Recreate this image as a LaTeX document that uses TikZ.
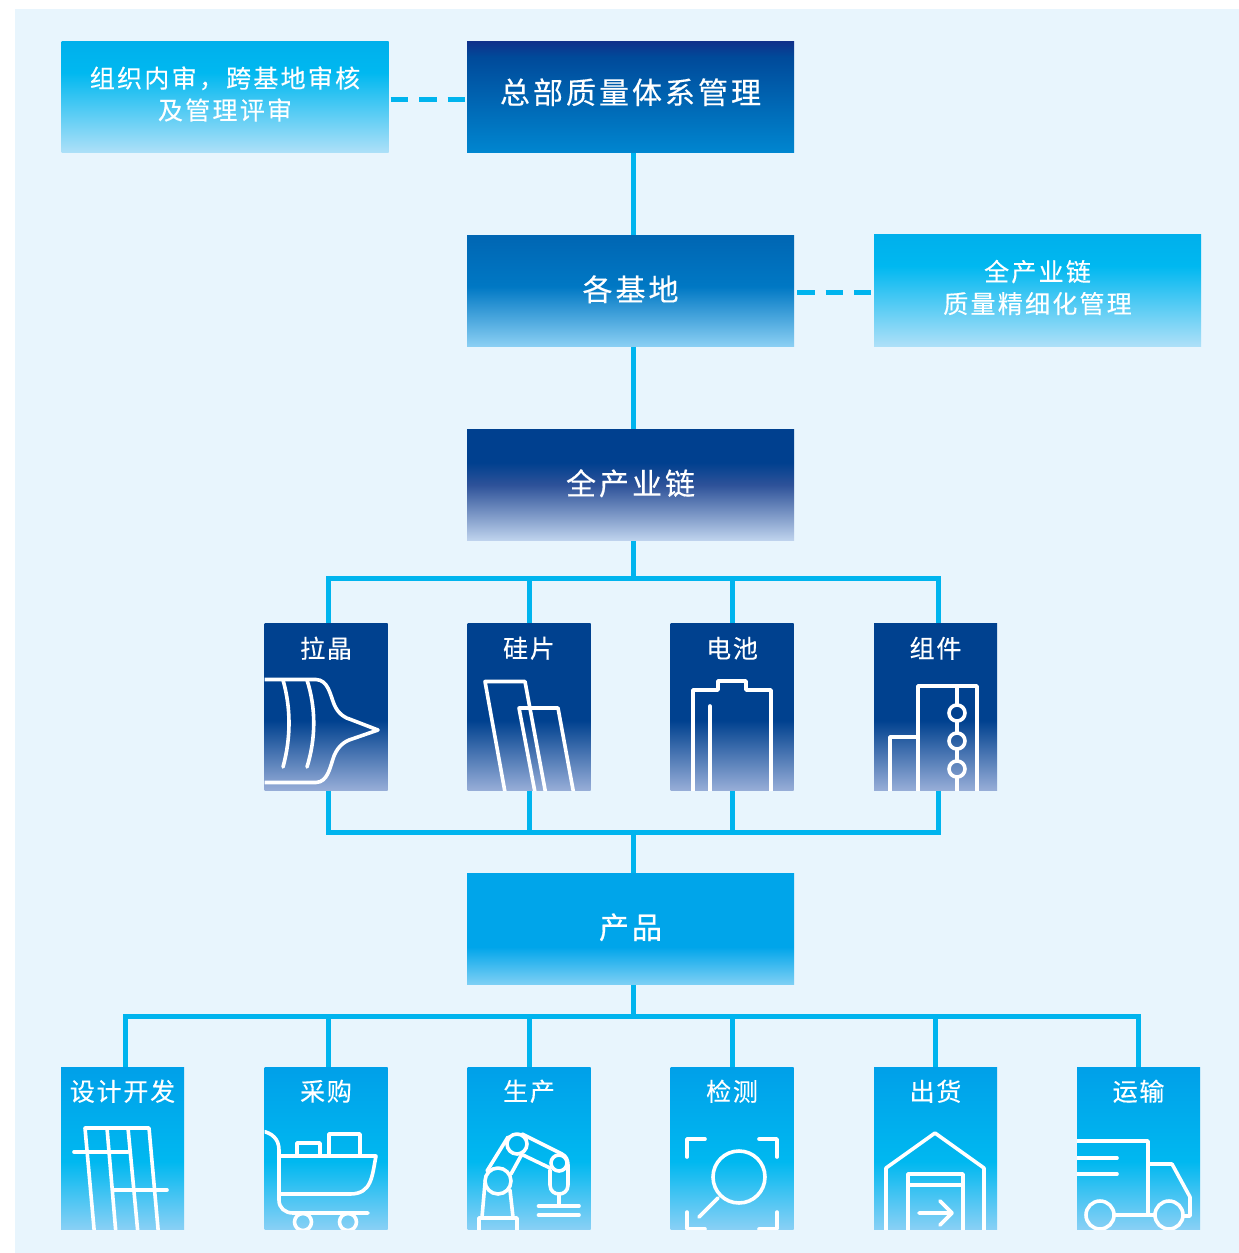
\documentclass[tikz,border=0pt]{standalone}
\usepackage{fontspec}
\usetikzlibrary{calc}
\newfontfamily\cjkbig[LetterSpace=10,FakeBold=0.35]{Noto Sans CJK SC}
\newfontfamily\cjksub[LetterSpace=9,FakeBold=0.3]{Noto Sans CJK SC}
\newfontfamily\cjksmall[LetterSpace=7,FakeBold=0.3]{Noto Sans CJK SC}
\definecolor{pagebg}{HTML}{E8F5FD}
\definecolor{linkc}{HTML}{00B4EE}
\definecolor{aTop}{HTML}{00B0EC}\definecolor{aMid}{HTML}{00B8F0}\definecolor{aBot}{HTML}{AEE0F8}
\definecolor{hTop}{HTML}{10308A}\definecolor{hMid}{HTML}{004A9A}\definecolor{hBot}{HTML}{0086D0}
\definecolor{bTop}{HTML}{0066B3}\definecolor{bMid}{HTML}{0078C4}\definecolor{bBot}{HTML}{8CD0F4}
\definecolor{cTop}{HTML}{00408F}\definecolor{cMid}{HTML}{2E5299}\definecolor{cBot}{HTML}{C0D4EE}
\definecolor{sTop}{HTML}{00418F}\definecolor{sBot}{HTML}{98AED8}
\definecolor{pTop}{HTML}{00A5EA}\definecolor{pBot}{HTML}{7FD0F5}
\definecolor{dTop}{HTML}{00A0E9}\definecolor{dMid}{HTML}{00B8F0}\definecolor{dBot}{HTML}{8AD0F5}
\pgfdeclareverticalshading{shA}{100bp}{color(0bp)=(aBot);color(25bp)=(aBot);color(61bp)=(aMid);color(75bp)=(aTop);color(100bp)=(aTop)}
\pgfdeclareverticalshading{shH}{100bp}{color(0bp)=(hBot);color(25bp)=(hBot);color(68bp)=(hMid);color(75bp)=(hTop);color(100bp)=(hTop)}
\pgfdeclareverticalshading{shB}{100bp}{color(0bp)=(bBot);color(25bp)=(bBot);color(52bp)=(bMid);color(75bp)=(bTop);color(100bp)=(bTop)}
\pgfdeclareverticalshading{shC}{100bp}{color(0bp)=(cBot);color(25bp)=(cBot);color(50bp)=(cMid);color(60bp)=(cTop);color(100bp)=(cTop)}
\pgfdeclareverticalshading{shS}{100bp}{color(0bp)=(sBot);color(25bp)=(sBot);color(46bp)=(sTop);color(100bp)=(sTop)}
\pgfdeclareverticalshading{shP}{100bp}{color(0bp)=(pBot);color(25bp)=(pBot);color(42bp)=(pTop);color(100bp)=(pTop)}
\pgfdeclareverticalshading{shD}{100bp}{color(0bp)=(dBot);color(25bp)=(dBot);color(46bp)=(dMid);color(75bp)=(dTop);color(100bp)=(dTop)}
\tikzset{
  boxbig/.style={rectangle,inner sep=0pt,outer sep=0pt,minimum width=327pt,minimum height=111.5pt,text=white,shade,align=center,font=\cjkbig\fontsize{30}{32}\selectfont},
  boxsub/.style={rectangle,inner sep=0pt,outer sep=0pt,minimum width=327pt,minimum height=111.5pt,text=white,shade,shading=shA,align=center,font=\cjksub\fontsize{25}{32}\selectfont},
  boxicon/.style={rectangle,inner sep=0pt,outer sep=0pt,minimum width=123pt,shade},
  capt/.style={text=white,inner sep=0pt,font=\cjksmall\fontsize{25}{28}\selectfont},
  link/.style={draw=linkc,line width=5pt},
  dashlink/.style={draw=linkc,line width=5pt,dash pattern=on 17.5pt off 11pt},
  icon/.style={draw=white,line width=3.6pt,line join=round,line cap=round},
}
\begin{document}
\begin{tikzpicture}[x=1pt,y=-1pt]
\useasboundingbox (0,0) rectangle (1239,1253);
\fill[pagebg] (15,9) rectangle (1239,1253);
% main boxes
\node[boxsub,text depth=8pt] (audit) at (225,97) {组织内审，跨基地审核\\及管理评审};
\node[boxbig,shading=shH,text depth=12pt] (hq) at (630.5,97) {总部质量体系管理};
\node[boxbig,shading=shB,text depth=6pt] (base) at (630.5,291) {各基地};
\node[boxsub,text depth=8pt] (fine) at (1037.5,290.5) {全产业链\\质量精细化管理};
\node[boxbig,shading=shC,text depth=6pt] (chain) at (630.5,485) {全产业链};
\node[boxbig,shading=shP,text depth=6pt] (prod) at (630.5,929) {产品};
% stage boxes
\foreach \n/\cx in {la/326,gui/529,dian/732,zu/935.5}
  \node[boxicon,shading=shS,minimum height=167.5pt] (\n) at (\cx,707) {};
\foreach \n/\cx in {she/122.5,cai/326,sheng/529,jian/732,chu/935.5,yun/1138.5}
  \node[boxicon,shading=shD,minimum height=162.5pt] (\n) at (\cx,1148.5) {};
% captions
\foreach \n/\t in {la/拉晶,gui/硅片,dian/电池,zu/组件}
  \node[capt] (\n t) at ($(\n.north)+(0,25)$) {\t};
\foreach \n/\t in {she/设计开发,cai/采购,sheng/生产,jian/检测,chu/出货,yun/运输}
  \node[capt] (\n t) at ($(\n.north)+(0,24)$) {\t};
% connectors
\coordinate (trunk) at (633,0);
\coordinate (busA) at (633,578);
\coordinate (busB) at (633,832);
\coordinate (busC) at (633,1016);
\draw[link] (hq.south -| trunk) -- (base.north -| trunk);
\draw[link] (base.south -| trunk) -- (chain.north -| trunk);
\draw[link] (chain.south -| trunk) -- (busA);
\draw[link] (busB) -- (prod.north -| trunk);
\draw[link] (prod.south -| trunk) -- (busC);
\draw[link] ($(la.north)+(2,0)$) |- (busA);
\draw[link] ($(gui.north)$) -- (gui.north |- busA);
\draw[link] ($(dian.north)$) -- (dian.north |- busA);
\draw[link] ($(zu.north)+(2.5,0)$) |- (busA);
\draw[link] ($(la.south)+(2,0)$) |- (busB);
\draw[link] (gui.south) -- (gui.south |- busB);
\draw[link] (dian.south) -- (dian.south |- busB);
\draw[link] ($(zu.south)+(2.5,0)$) |- (busB);
\draw[link] ($(she.north)+(2.5,0)$) |- (busC);
\draw[link] ($(cai.north)+(2,0)$) -- ($(cai.north |- busC)+(2,0)$);
\draw[link] (sheng.north) -- (sheng.north |- busC);
\draw[link] (jian.north) -- (jian.north |- busC);
\draw[link] (chu.north) -- (chu.north |- busC);
\draw[link] (yun.north) |- (busC);
\draw[dashlink] ($(audit.east)+(2,2)$) -- ($(hq.west)+(-2,2)$);
\draw[dashlink] ($(base.east)+(3,1)$) -- ($(fine.west)+(-3,1.5)$);
% icon: crystal
\begin{scope}
\clip (la.north west) rectangle (la.south east);
\draw[icon] (262,679.5) -- (316,679.5) .. controls (328,680) and (330,694) .. (334,704) .. controls (338,714) and (345,718) .. (352,720) -- (378,730) -- (352,739) .. controls (345,741) and (338,746) .. (334,756) .. controls (330,767) and (328,782) .. (316,782.5) -- (262,782.5);
\draw[icon] (283,680) .. controls (291,708) and (291,738) .. (283,767);
\draw[icon] (307,680) .. controls (316,708) and (316,738) .. (307,767);
\end{scope}
% icon: wafer
\begin{scope}
\clip (gui.north west) rectangle (gui.south east);
\draw[icon] (505.5,795) -- (485,681.5) -- (525,681.5) -- (546,795);
\draw[icon] (535.5,795) -- (519,708) -- (558,708) -- (574,795);
\end{scope}
% icon: cell
\begin{scope}
\clip (dian.north west) rectangle (dian.south east);
\draw[icon] (693,795) -- (693,690) -- (718,690) -- (718,681) -- (746,681) -- (746,690) -- (771,690) -- (771,795);
\draw[icon] (710,706) -- (710,795);
\end{scope}
% icon: module
\begin{scope}
\clip (zu.north west) rectangle (zu.south east);
\draw[icon] (918,795) -- (918,686) -- (977,686) -- (977,795);
\draw[icon] (890,795) -- (890,737) -- (918,737);
\draw[icon] (957,686) -- (957,705) (957,721) -- (957,733) (957,749) -- (957,761) (957,777) -- (957,795);
\foreach \yy in {713,741,769} \draw[icon] (957,\yy) circle[radius=8];
\end{scope}
% icon: panel
\begin{scope}
\clip (she.north west) rectangle (she.south east);
\draw[icon] (94.5,1234) -- (85,1128) -- (149,1128) -- (158.5,1234);
\draw[icon] (107,1128) -- (116,1234) (128,1128) -- (138,1234);
\draw[icon] (74,1152) -- (128,1152) (113,1190) -- (167,1190);
\end{scope}
% icon: cart
\begin{scope}
\clip (cai.north west) rectangle (cai.south east);
\draw[icon] (262,1131) .. controls (272,1133) and (279,1139) .. (279,1150) -- (279,1200) .. controls (279,1208) and (285,1213) .. (293,1213) -- (368,1213);
\draw[icon] (279,1156) -- (376,1156) .. controls (372,1176) and (372,1194) .. (350,1194) -- (279,1194);
\draw[icon] (297,1156) -- (297,1143) -- (320,1143) -- (320,1156);
\draw[icon] (329,1156) -- (329,1134) -- (360,1134) -- (360,1156);
\draw[icon] (303,1222) circle[radius=8.5] (348,1222) circle[radius=8.5];
\end{scope}
% icon: robot
\begin{scope}
\clip (sheng.north west) rectangle (sheng.south east);
\draw[icon] (479,1234) -- (479,1218) -- (517,1218) -- (517,1234);
\draw[icon] (482,1217) -- (485,1183) (513,1217) -- (510,1190);
\draw[icon] (517,1144) circle[radius=10];
\draw[icon] (498,1181) circle[radius=13];
\draw[icon] (559,1163) circle[radius=8];
\draw[icon] (487,1171) -- (508,1137) (511,1174) -- (522,1154);
\draw[icon] (522,1134) -- (562,1154) .. controls (566,1156) and (568,1160) .. (568,1165) -- (568,1185) .. controls (568,1197) and (550,1197) .. (550,1185) -- (550,1170);
\draw[icon] (523,1155) -- (550,1168);
\draw[icon] (559,1195) -- (559,1205);
\draw[icon] (538.5,1206) -- (579,1206) (538.5,1215) -- (579,1215);
\end{scope}
% icon: inspection
\begin{scope}
\clip (jian.north west) rectangle (jian.south east);
\draw[icon] (687,1157) -- (687,1139) -- (705,1139);
\draw[icon] (759,1139) -- (777,1139) -- (777,1157);
\draw[icon] (687,1212) -- (687,1229) -- (705,1229);
\draw[icon] (759,1229) -- (777,1229) -- (777,1212);
\draw[icon] (739,1177) circle[radius=26];
\draw[icon] (718,1198) -- (699,1217);
\end{scope}
% icon: warehouse
\begin{scope}
\clip (chu.north west) rectangle (chu.south east);
\draw[icon] (886,1234) -- (886,1168) -- (935,1133) -- (984,1168) -- (984,1234);
\draw[icon] (908,1234) -- (908,1174) -- (963,1174) -- (963,1234);
\draw[icon] (908,1185) -- (963,1185);
\draw[icon] (919,1213) -- (952,1213) (940,1201) -- (952,1213) -- (940,1225);
\end{scope}
% icon: truck
\begin{scope}
\clip (yun.north west) rectangle (yun.south east);
\draw[icon] (1074,1141) -- (1148,1141) -- (1148,1215);
\draw[icon] (1074,1158) -- (1117,1158) (1074,1174) -- (1117,1174);
\draw[icon] (1148,1164) -- (1172,1164) -- (1190,1197) -- (1190,1216) -- (1184,1216);
\draw[icon] (1100,1215) circle[radius=14] (1169,1215) circle[radius=14];
\draw[icon] (1115,1215) -- (1154,1215);
\end{scope}
\end{tikzpicture}
\end{document}
